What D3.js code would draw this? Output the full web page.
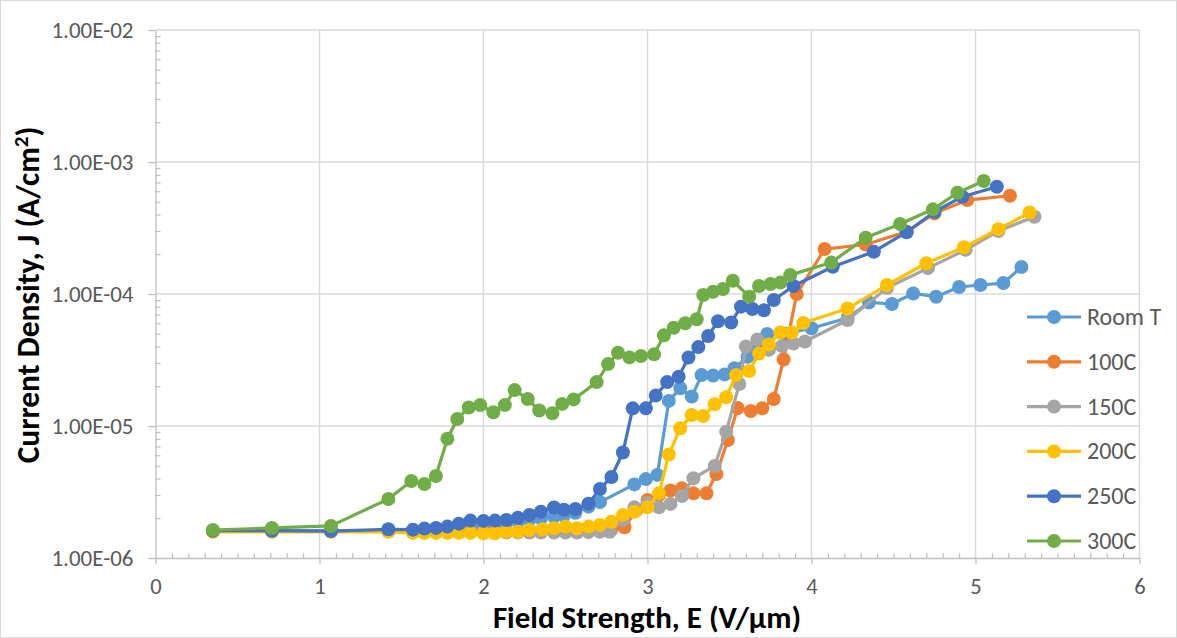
<!DOCTYPE html>
<html><head><meta charset="utf-8">
<script src="https://cdn.jsdelivr.net/npm/d3@7"></script>
<style>body{margin:0;background:#fff} svg{display:block}</style>
</head><body><svg id="c" width="1177" height="638"></svg>
<script>
// ---- data ----
const seriesNames = ["Room T","100C","150C","200C","250C","300C"];
const seriesColors = ["#5B9BD5","#ED7D31","#A5A5A5","#FFC000","#4472C4","#70AD47"];
const xTicks = [0,1,2,3,4,5,6];
const yTicks = [1e-6,1e-5,1e-4,1e-3,1e-2];

const roomT_E = [0.35,0.71,1.07,1.42,1.57,1.64,1.71,1.78,1.85,1.92,2.00,2.07,2.14,2.21,2.28,2.35,2.43,2.49,2.56,2.64,2.71,2.92,2.99,3.06,3.13,3.20,3.27,3.33,3.40,3.47,3.53,3.61,3.67,3.73,3.84,4.00,4.22,4.35,4.49,4.62,4.76,4.90,5.03,5.17,5.28];
const roomT_J = [1.6e-6,1.6e-6,1.6e-6,1.6e-6,1.6e-6,1.62e-6,1.64e-6,1.67e-6,1.7e-6,1.74e-6,1.78e-6,1.82e-6,1.86e-6,1.9e-6,1.95e-6,2.0e-6,2.06e-6,2.1e-6,2.2e-6,2.45e-6,2.65e-6,3.61e-6,3.96e-6,4.26e-6,1.55e-5,1.93e-5,1.67e-5,2.43e-5,2.41e-5,2.46e-5,2.74e-5,3.35e-5,3.88e-5,4.98e-5,5.0e-5,5.5e-5,6.58e-5,8.63e-5,8.40e-5,1.01e-4,9.54e-5,1.13e-4,1.17e-4,1.21e-4,1.60e-4];

const c100_E = [0.35,0.71,1.07,1.42,1.57,1.64,1.71,1.78,1.85,1.92,2.00,2.07,2.14,2.21,2.28,2.35,2.43,2.50,2.57,2.64,2.71,2.78,2.86,2.93,3.00,3.07,3.14,3.21,3.28,3.36,3.42,3.49,3.55,3.63,3.70,3.77,3.83,3.91,4.08,4.33,4.58,4.75,4.95,5.21];
const c100_J = [1.6e-6,1.6e-6,1.6e-6,1.6e-6,1.58e-6,1.58e-6,1.58e-6,1.58e-6,1.58e-6,1.58e-6,1.58e-6,1.58e-6,1.58e-6,1.58e-6,1.58e-6,1.6e-6,1.6e-6,1.6e-6,1.6e-6,1.6e-6,1.62e-6,1.64e-6,1.71e-6,2.3e-6,2.75e-6,3.0e-6,3.25e-6,3.37e-6,3.09e-6,3.09e-6,4.33e-6,7.83e-6,1.37e-5,1.30e-5,1.36e-5,1.60e-5,3.19e-5,1.0e-4,2.19e-4,2.37e-4,2.96e-4,4.08e-4,5.15e-4,5.55e-4];

const c150_E = [0.35,0.71,1.07,1.42,1.57,1.64,1.71,1.78,1.85,1.92,2.00,2.07,2.14,2.21,2.28,2.35,2.43,2.50,2.57,2.64,2.71,2.77,2.85,2.92,3.00,3.07,3.14,3.21,3.28,3.41,3.48,3.56,3.60,3.67,3.74,3.82,3.89,3.96,4.22,4.46,4.71,4.94,5.14,5.36];
const c150_J = [1.6e-6,1.6e-6,1.6e-6,1.6e-6,1.57e-6,1.57e-6,1.57e-6,1.57e-6,1.57e-6,1.57e-6,1.57e-6,1.56e-6,1.56e-6,1.56e-6,1.56e-6,1.56e-6,1.56e-6,1.56e-6,1.56e-6,1.57e-6,1.58e-6,1.58e-6,1.94e-6,2.42e-6,2.61e-6,2.42e-6,2.57e-6,2.95e-6,4.02e-6,4.98e-6,9.06e-6,2.08e-5,4.0e-5,4.52e-5,3.77e-5,4.04e-5,4.22e-5,4.37e-5,6.35e-5,1.11e-4,1.57e-4,2.16e-4,3.0e-4,3.85e-4];

const c200_E = [0.35,0.71,1.07,1.42,1.57,1.64,1.71,1.78,1.85,1.92,2.00,2.07,2.14,2.21,2.28,2.36,2.43,2.50,2.57,2.64,2.71,2.78,2.85,2.92,3.00,3.07,3.13,3.20,3.27,3.34,3.41,3.48,3.54,3.62,3.68,3.74,3.81,3.88,3.95,4.22,4.46,4.70,4.93,5.14,5.33];
const c200_J = [1.58e-6,1.58e-6,1.58e-6,1.58e-6,1.55e-6,1.55e-6,1.55e-6,1.55e-6,1.55e-6,1.55e-6,1.54e-6,1.54e-6,1.58e-6,1.58e-6,1.63e-6,1.65e-6,1.68e-6,1.73e-6,1.68e-6,1.73e-6,1.78e-6,1.88e-6,2.12e-6,2.24e-6,2.42e-6,3.09e-6,6.08e-6,9.62e-6,1.21e-5,1.19e-5,1.46e-5,1.65e-5,2.43e-5,2.61e-5,3.54e-5,4.14e-5,5.11e-5,5.11e-5,6.02e-5,7.76e-5,1.17e-4,1.71e-4,2.26e-4,3.10e-4,4.14e-4];

const c250_E = [0.35,0.71,1.07,1.42,1.57,1.64,1.71,1.78,1.85,1.92,2.00,2.07,2.14,2.21,2.28,2.35,2.43,2.49,2.56,2.64,2.71,2.78,2.85,2.91,2.99,3.05,3.12,3.19,3.25,3.31,3.37,3.43,3.51,3.57,3.64,3.71,3.77,3.89,4.13,4.38,4.58,4.75,4.92,5.13];
const c250_J = [1.61e-6,1.61e-6,1.60e-6,1.65e-6,1.64e-6,1.67e-6,1.69e-6,1.73e-6,1.82e-6,1.92e-6,1.91e-6,1.92e-6,1.94e-6,2.02e-6,2.12e-6,2.24e-6,2.41e-6,2.32e-6,2.35e-6,2.58e-6,3.33e-6,4.11e-6,6.30e-6,1.36e-5,1.36e-5,1.70e-5,2.15e-5,2.36e-5,3.30e-5,3.96e-5,4.81e-5,6.22e-5,6.08e-5,8.02e-5,7.69e-5,7.52e-5,9.01e-5,1.15e-4,1.61e-4,2.09e-4,2.94e-4,4.20e-4,5.46e-4,6.50e-4];

const c300_E = [0.35,0.71,1.07,1.42,1.56,1.64,1.71,1.78,1.84,1.91,1.98,2.06,2.13,2.19,2.27,2.34,2.42,2.48,2.55,2.69,2.76,2.82,2.89,2.96,3.04,3.10,3.16,3.23,3.30,3.34,3.40,3.46,3.52,3.62,3.68,3.75,3.81,3.87,4.12,4.33,4.54,4.74,4.89,5.05];
const c300_J = [1.63e-6,1.69e-6,1.75e-6,2.80e-6,3.83e-6,3.64e-6,4.18e-6,8.0e-6,1.13e-5,1.38e-5,1.44e-5,1.27e-5,1.44e-5,1.87e-5,1.60e-5,1.31e-5,1.25e-5,1.47e-5,1.59e-5,2.15e-5,2.95e-5,3.59e-5,3.31e-5,3.39e-5,3.49e-5,4.86e-5,5.55e-5,6.0e-5,6.43e-5,9.82e-5,1.04e-4,1.09e-4,1.26e-4,9.55e-5,1.15e-4,1.19e-4,1.22e-4,1.39e-4,1.73e-4,2.67e-4,3.39e-4,4.38e-4,5.85e-4,7.18e-4];

const seriesE = [roomT_E,c100_E,c150_E,c200_E,c250_E,c300_E];
const seriesJ = [roomT_J,c100_J,c150_J,c200_J,c250_J,c300_J];

// ---- chart ----
const FONT = "Carlito, Calibri, Lato, 'Liberation Sans', sans-serif";
const svg = d3.select("#c");
svg.append("rect").attr("x",0.5).attr("y",0.5).attr("width",1176).attr("height",637)
  .attr("fill","#fff").attr("stroke","#d9d9d9");

const x = d3.scaleLinear().domain([0,6]).range([155.5,1139.5]);
const y = d3.scaleLog().domain([1e-6,1e-2]).range([558,30]);

const grid = svg.append("g");
grid.selectAll("line.h").data(yTicks.slice(1)).enter().append("line")
  .attr("x1",x(0)).attr("x2",x(6)).attr("y1",d=>y(d)).attr("y2",d=>y(d))
  .attr("stroke","#d9d9d9").attr("stroke-width",1.5);
grid.selectAll("line.v").data(xTicks.slice(1)).enter().append("line")
  .attr("y1",y(1e-6)).attr("y2",y(1e-2)).attr("x1",d=>x(d)).attr("x2",d=>x(d))
  .attr("stroke","#d9d9d9").attr("stroke-width",1.5);

// y axis
const yAx = svg.append("g").attr("transform",`translate(${x(0)},0)`)
  .call(d3.axisLeft(y).tickValues(yTicks).tickFormat(d=>"1.00E-0"+Math.round(-Math.log10(d))).tickSize(7).tickSizeOuter(0).tickPadding(15));
yAx.select(".domain").attr("stroke","#bfbfbf").attr("stroke-width",1.3);
yAx.selectAll(".tick line").attr("stroke","#bfbfbf").attr("stroke-width",1.3);
yAx.selectAll("text").attr("font-family",FONT).attr("font-size",23).attr("fill","#595959");
const minorY = [];
for (let e=-6;e<-2;e++) for (let m=2;m<10;m++) minorY.push(m*Math.pow(10,e));
svg.append("g").attr("transform",`translate(${x(0)},0)`)
  .call(d3.axisRight(y).tickValues(minorY).tickFormat("").tickSize(5).tickSizeOuter(0))
  .call(g=>{g.select(".domain").remove(); g.selectAll("line").attr("stroke","#bfbfbf").attr("stroke-width",1.2);});

// x axis
const xAx = svg.append("g").attr("transform",`translate(0,${y(1e-6)})`)
  .call(d3.axisBottom(x).tickValues(xTicks).tickFormat(d3.format("d")).tickSize(6).tickSizeOuter(0).tickPadding(14));
xAx.select(".domain").attr("stroke","#bfbfbf").attr("stroke-width",1.3);
xAx.selectAll(".tick line").attr("stroke","#bfbfbf").attr("stroke-width",1.3);
xAx.selectAll("text").attr("font-family",FONT).attr("font-size",22.5).attr("fill","#595959");
const minorX = d3.range(1,60).filter(i=>i%10!==0).map(i=>i/10);
svg.append("g").attr("transform",`translate(0,${y(1e-6)})`)
  .call(d3.axisTop(x).tickValues(minorX).tickFormat("").tickSize(5).tickSizeOuter(0))
  .call(g=>{g.select(".domain").remove(); g.selectAll("line").attr("stroke","#bfbfbf").attr("stroke-width",1.2);});

// series
const line = d3.line().x(d=>x(d[0])).y(d=>y(d[1]));
seriesNames.forEach((name,i)=>{
  const pts = seriesE[i].map((e,k)=>[e,seriesJ[i][k]]);
  const g = svg.append("g");
  g.append("path").datum(pts).attr("d",line).attr("fill","none")
    .attr("stroke",seriesColors[i]).attr("stroke-width",3.2).attr("stroke-linejoin","round");
  g.selectAll("circle").data(pts).enter().append("circle")
    .attr("cx",d=>x(d[0])).attr("cy",d=>y(d[1])).attr("r",7).attr("fill",seriesColors[i]);
});

// legend
const leg = svg.append("g");
seriesNames.forEach((name,i)=>{
  const yy = 317 + i*44.8;
  leg.append("line").attr("x1",1027).attr("x2",1081).attr("y1",yy).attr("y2",yy)
    .attr("stroke",seriesColors[i]).attr("stroke-width",3.2);
  leg.append("circle").attr("cx",1054).attr("cy",yy).attr("r",7).attr("fill",seriesColors[i]);
  leg.append("text").attr("x",1087).attr("y",yy+8).text(name)
    .attr("font-family",FONT).attr("font-size",24).attr("fill","#595959");
});

// titles
svg.append("text").attr("x",647).attr("y",628).attr("text-anchor","middle")
  .attr("font-family",FONT).attr("font-weight","bold").attr("font-size",31).attr("fill","#000")
  .text("Field Strength, E (V/µm)");
const yt = svg.append("text").attr("transform","translate(39,295) rotate(-90)").attr("text-anchor","middle")
  .attr("font-family",FONT).attr("font-weight","bold").attr("font-size",31.5).attr("fill","#000");
yt.append("tspan").text("Current Density, J (A/cm");
yt.append("tspan").attr("dy",-11).attr("font-size",21).text("2");
yt.append("tspan").attr("dy",11).text(")");
</script></body></html>
